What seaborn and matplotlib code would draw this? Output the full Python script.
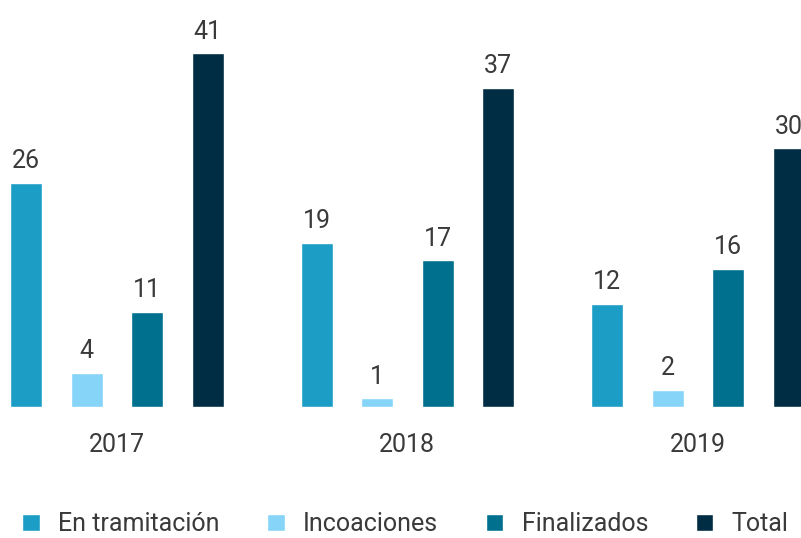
import pandas as pd
import matplotlib.pyplot as plt
import seaborn as sns

# Datos
anios = ['2017', '2018', '2019']
series = ['En tramitación', 'Incoaciones', 'Finalizados', 'Total']
en_tramitacion = [26, 19, 12]
incoaciones = [4, 1, 2]
finalizados = [11, 17, 16]
total = [41, 37, 30]
colores = ['#1C9DC5', '#86D4F7', '#00708F', '#002D43']

valores = [en_tramitacion, incoaciones, finalizados, total]
df = pd.DataFrame([
    {'Año': a, 'Tipo': s, 'Valor': v[i]}
    for s, v in zip(series, valores)
    for i, a in enumerate(anios)
])

sns.set_style('white')
plt.rcParams['font.family'] = ['Roboto', 'DejaVu Sans']
texto = '#3a3a3a'

fig = plt.figure(figsize=(8.01, 5.38), dpi=100)
ax = fig.add_axes([0, 0.2435, 1, 0.7565])

sns.barplot(data=df, x='Año', y='Valor', hue='Tipo', palette=colores,
            width=0.833, gap=0.47, ax=ax, saturation=1)

for cont in ax.containers:
    ax.bar_label(cont, padding=7, fontsize=18, color=texto)

ax.set_xlim(-0.402, 2.355)
ax.set_ylim(0, 47.2)
ax.set_xlabel('')
ax.set_ylabel('')
ax.set_yticks([])
ax.tick_params(axis='x', length=0, pad=19, labelsize=18, labelcolor=texto)
sns.despine(ax=ax, left=True, bottom=True)

# leyenda abajo, una fila
handles, labels = ax.get_legend_handles_labels()
ax.legend(handles, labels, loc='center left', bbox_to_anchor=(22 / 801, 14 / 538),
          bbox_transform=fig.transFigure, ncol=4, frameon=False,
          prop={'size': 18}, labelcolor=texto,
          handlelength=0.7, handleheight=0.7, handletextpad=0.74,
          columnspacing=1.9, borderaxespad=0, borderpad=0)

fig.savefig('out.png', dpi=100)
